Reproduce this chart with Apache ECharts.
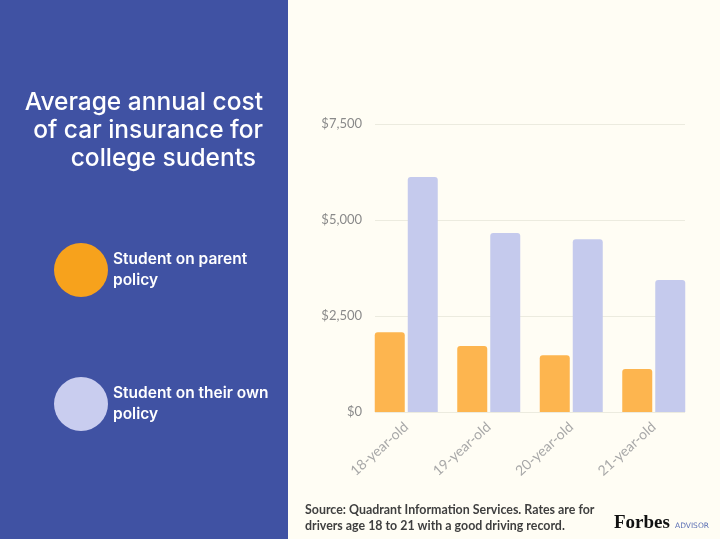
<!DOCTYPE html>
<html>
<head>
<meta charset="utf-8">
<script src="https://cdn.jsdelivr.net/npm/echarts@6/dist/echarts.min.js"></script>
<style>
  html, body { margin: 0; padding: 0; background: #fffdf4; }
  #chart { width: 720px; height: 539px; }
</style>
</head>
<body>
<div id="chart"></div>
<script>
// data
var categories = ["18-year-old", "19-year-old", "20-year-old", "21-year-old"];
var parentPolicy = [2080, 1720, 1480, 1120];
var ownPolicy = [6120, 4660, 4500, 3440];
var yTicks = [0, 2500, 5000, 7500];

var chartDom = document.getElementById("chart");
var chart = echarts.init(chartDom);

var titleFont = "500 24.5px Inter";

var option = {
  backgroundColor: "#fffdf4",
  animation: false,
  legend: {
    orient: "vertical",
    left: 49,
    top: 238,
    icon: "circle",
    itemWidth: 54,
    itemHeight: 54,
    itemGap: 80,
    data: [
      { name: "Student on parent policy", itemStyle: { color: "#f7a21c" } },
      { name: "Student on their own policy", itemStyle: { color: "#c9cdef" } },
    ],
    formatter: function (name) {
      return name === "Student on parent policy"
        ? "Student on parent\npolicy"
        : "Student on their own\npolicy";
    },
    textStyle: {
      color: "#ffffff",
      fontFamily: "Inter",
      fontSize: 15.5,
      fontWeight: 600,
      lineHeight: 21,
    },
    selectedMode: false,
  },
  graphic: [
    {
      type: "rect",
      z: -10,
      shape: { x: 0, y: 0, width: 288, height: 539 },
      style: { fill: "#4052a3" },
    },
    {
      type: "text",
      x: 263,
      y: 90,
      style: { text: "Average annual cost", fill: "#ffffff", font: titleFont, textAlign: "right" },
    },
    {
      type: "text",
      x: 263,
      y: 118,
      style: { text: "of car insurance for", fill: "#ffffff", font: titleFont, textAlign: "right" },
    },
    {
      type: "text",
      x: 256,
      y: 146,
      style: { text: "college sudents", fill: "#ffffff", font: titleFont, textAlign: "right" },
    },
    {
      type: "text",
      x: 305,
      y: 502,
      style: {
        text: "Source: Quadrant Information Services. Rates are for\ndrivers age 18 to 21 with a good driving record.",
        fill: "#3f3f3f",
        font: "bold 12.4px Lato",
        lineHeight: 16,
      },
    },
    {
      type: "text",
      x: 614,
      y: 514,
      style: {
        text: "Forbes",
        fill: "#111111",
        font: "bold 19px 'Liberation Serif'",
      },
    },
    {
      type: "text",
      x: 675,
      y: 522,
      style: {
        text: "ADVISOR",
        fill: "#5b6fb4",
        font: "7.5px 'DejaVu Sans'",
      },
    },
  ],
  grid: [
    { left: 375, right: 35, top: 124, bottom: 127 },
    { left: 365, right: 25, top: 124, bottom: 127 },
  ],
  xAxis: [
    { type: "value", gridIndex: 0, show: false, min: 0, max: 1 },
    {
      type: "category",
      gridIndex: 1,
      data: categories,
      axisLine: { show: false },
      axisTick: { show: false },
      axisLabel: {
        rotate: 42,
        color: "#a8a8a8",
        fontFamily: "Lato",
        fontSize: 14,
        margin: 13,
      },
    },
  ],
  yAxis: [
    {
      type: "value",
      gridIndex: 0,
      min: 0,
      max: 7500,
      interval: 2500,
      axisLine: { show: false },
      axisTick: { show: false },
      splitLine: { lineStyle: { color: "#ecebdf", width: 1 } },
      axisLabel: {
        color: "#8a8a8a",
        fontFamily: "Lato",
        fontSize: 13,
        margin: 13,
        formatter: function (v) {
          return yTicks.indexOf(v) >= 0 ? "$" + v.toLocaleString("en-US") : "";
        },
      },
    },
    { type: "value", gridIndex: 1, min: 0, max: 7500, show: false },
  ],
  series: [
    {
      name: "Student on parent policy",
      type: "bar",
      xAxisIndex: 1,
      yAxisIndex: 1,
      data: parentPolicy,
      barWidth: 30,
      barGap: "10%",
      itemStyle: { color: "#fdb54f", borderRadius: [3, 3, 0, 0] },
    },
    {
      name: "Student on their own policy",
      type: "bar",
      xAxisIndex: 1,
      yAxisIndex: 1,
      data: ownPolicy,
      barWidth: 30,
      barGap: "10%",
      itemStyle: { color: "#c5caed", borderRadius: [3, 3, 0, 0] },
    },
  ],
};

option && chart.setOption(option);
</script>
</body>
</html>
